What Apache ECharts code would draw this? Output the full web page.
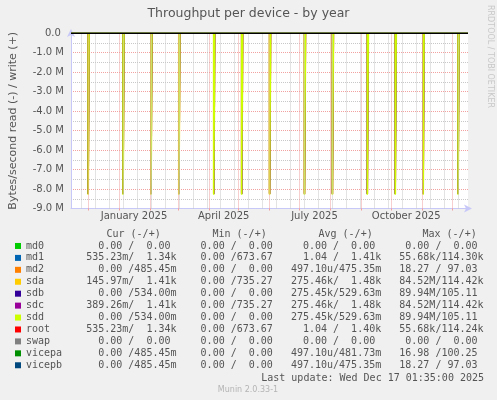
<!DOCTYPE html>
<html>
<head>
<meta charset="utf-8">
<script src="https://cdn.jsdelivr.net/npm/echarts@6/dist/echarts.min.js"></script>
<style>
  html, body { margin: 0; padding: 0; background: #f0f0f0; }
  #chart { width: 497px; height: 400px; }
</style>
</head>
<body>
<div id="chart"></div>
<script>
// time window of the yearly graph
const timeRange = ['2024-11-13T20:00:00Z', '2025-12-17T00:00:00Z'];

// monthly raid check days (daily bins) and read throughput, bytes/s (read is drawn negative)
const spikeDays = ['2024-12-01', '2025-01-05', '2025-02-02', '2025-03-02', '2025-04-06', '2025-05-04',
  '2025-06-01', '2025-07-06', '2025-08-03', '2025-09-07', '2025-10-05', '2025-11-02', '2025-12-07'];
const sdaRead = [-8.25e6, -8.25e6, -8.25e6, -8.25e6, -8.25e6, -8.25e6, -8.25e6, -8.25e6, -8.25e6, -8.25e6, -8.25e6, -8.25e6, -8.25e6];
const sdbRead = [-8.25e6, -8.25e6, -8.25e6, -8.25e6, -8.25e6, -8.25e6, -8.25e6, -8.25e6, -8.25e6, -8.25e6, -8.25e6, -8.25e6, -8.25e6];
const sdcRead = [-8.25e6, -8.25e6, -8.25e6, -8.25e6, -8.25e6, -8.25e6, -8.25e6, -8.25e6, -8.25e6, -8.25e6, -8.25e6, -8.25e6, -8.25e6];
const sddRead = [-8.3e6, -8.3e6, -8.3e6, -8.3e6, -8.3e6, -8.3e6, -8.3e6, -8.3e6, -8.3e6, -8.3e6, -8.3e6, -8.3e6, -8.3e6];

// grid: month boundaries (major) and two-week lines (minor)
const monthStarts = ['2024-12-01', '2025-01-01', '2025-02-01', '2025-03-01', '2025-04-01', '2025-05-01',
  '2025-06-01', '2025-07-01', '2025-08-01', '2025-09-01', '2025-10-01', '2025-11-01', '2025-12-01'];
const minorDays = ['2024-11-24', '2024-12-08', '2024-12-22', '2025-01-05', '2025-01-19', '2025-02-02',
  '2025-02-16', '2025-03-02', '2025-03-16', '2025-03-30', '2025-04-13', '2025-04-27', '2025-05-11',
  '2025-05-25', '2025-06-08', '2025-06-22', '2025-07-06', '2025-07-20', '2025-08-03', '2025-08-17',
  '2025-08-31', '2025-09-14', '2025-09-28', '2025-10-12', '2025-10-26', '2025-11-09', '2025-11-23', '2025-12-07'];
const xLabelDays = ['2025-01-16', '2025-04-16', '2025-07-16', '2025-10-16'];
const xLabelText = ['January 2025', 'April 2025', 'July 2025', 'October 2025'];

// legend table
const devices = ['md0', 'md1', 'md2', 'sda', 'sdb', 'sdc', 'sdd', 'root', 'swap', 'vicepa', 'vicepb'];
const colors = ['#00CC00', '#0066B3', '#FF8000', '#FFCC00', '#330099', '#990099', '#CCFF00', '#FF0000', '#808080', '#008F00', '#00487D'];
const curVals = ['  0.00 /  0.00 ', '535.23m/  1.34k', '  0.00 /485.45m', '145.97m/  1.41k', '  0.00 /534.00m',
  '389.26m/  1.41k', '  0.00 /534.00m', '535.23m/  1.34k', '  0.00 /  0.00 ', '  0.00 /485.45m', '  0.00 /485.45m'];
const minVals = ['  0.00 /  0.00 ', '  0.00 /673.67 ', '  0.00 /  0.00 ', '  0.00 /735.27 ', '  0.00 /  0.00 ',
  '  0.00 /735.27 ', '  0.00 /  0.00 ', '  0.00 /673.67 ', '  0.00 /  0.00 ', '  0.00 /  0.00 ', '  0.00 /  0.00 '];
const avgVals = ['  0.00 /  0.00 ', '  1.04 /  1.41k', '497.10u/475.35m', '275.46k/  1.48k', '275.45k/529.63m',
  '275.46k/  1.48k', '275.45k/529.63m', '  1.04 /  1.40k', '  0.00 /  0.00 ', '497.10u/481.73m', '497.10u/475.35m'];
const maxVals = ['  0.00 /  0.00 ', ' 55.68k/114.30k', ' 18.27 / 97.03 ', ' 84.52M/114.42k', ' 89.94M/105.11 ',
  ' 84.52M/114.42k', ' 89.94M/105.11 ', ' 55.68k/114.24k', '  0.00 /  0.00 ', ' 16.98 /100.25 ', ' 18.27 / 97.03 '];
const headers = ['Cur (-/+)', 'Min (-/+)', 'Avg (-/+)', 'Max (-/+)'];

const DAY = 86400000;
const T = s => Date.parse(s.length === 10 ? s + 'T00:00:00Z' : s);
const tStart = T(timeRange[0]);
const tEnd = T(timeRange[1]);

function readSeries(vals) {
  const pts = [[tStart, 0]];
  spikeDays.forEach((d, i) => {
    const t = T(d);
    pts.push([t, 0], [t, vals[i]], [t + DAY, vals[i]], [t + DAY, 0]);
  });
  pts.push([tEnd, 0]);
  return pts;
}
const readData = { sda: sdaRead, sdb: sdbRead, sdc: sdcRead, sdd: sddRead };
const lineWidths = { sda: 1.8, sdc: 1.5, sdd: 1.5 };

const mono = 'DejaVu Sans Mono';
const sans = 'DejaVu Sans';

var chart = echarts.init(document.getElementById('chart'));

var series = [
  {
    // grid lines
    type: 'line', data: [[tStart, 0]], symbol: 'none', lineStyle: { opacity: 0 }, z: 1, silent: true,
    markLine: {
      symbol: 'none', silent: true, animation: false, label: { show: false },
      data: minorDays.map(d => ({ xAxis: T(d), lineStyle: { color: '#c8c8c8', type: [1, 1], width: 1 } }))
        .concat(monthStarts.map(d => ({ xAxis: T(d), lineStyle: { color: '#f2a0a0', type: [1, 1], width: 1 } })))
    }
  }
];
devices.forEach((name, i) => {
  series.push({
    name: name,
    type: 'line',
    color: colors[i],
    symbol: 'none',
    animation: false,
    z: 2,
    lineStyle: { width: lineWidths[name] || 1, color: colors[i] },
    data: readData[name] ? readSeries(readData[name]) : [[tStart, 0], [tEnd, 0]]
  });
});
series.push({
  type: 'line', data: [[tStart, 0]], symbol: 'none', lineStyle: { opacity: 0 }, z: 5, silent: true,
  markLine: {
    symbol: 'none', silent: true, animation: false, label: { show: false },
    data: [{ yAxis: 0, lineStyle: { color: '#000', type: 'solid', width: 1 } }]
  }
});

var option = {
  backgroundColor: '#f0f0f0',
  animation: false,
  grid: {
    left: 67, right: 29, top: 33, bottom: 191.5,
    show: true, backgroundColor: '#fff', borderWidth: 0
  },
  xAxis: {
    type: 'value',
    min: tStart,
    max: tEnd,
    axisLine: {
      show: true, onZero: false,
      lineStyle: { color: '#c8c8f8' },
      symbol: ['none', 'arrow'], symbolSize: [6, 8], symbolOffset: [0, 4]
    },
    axisTick: { show: true, customValues: monthStarts.map(T), length: 2, lineStyle: { color: '#f2a0a0' } },
    axisLabel: {
      customValues: xLabelDays.map(T),
      formatter: v => xLabelText[xLabelDays.map(T).indexOf(v)] || '',
      fontFamily: sans, fontSize: 10, color: '#555', margin: 3
    },
    splitLine: { show: false }
  },
  yAxis: {
    type: 'value',
    min: -9e6,
    max: 0,
    interval: 1e6,
    name: 'Bytes/second read (-) / write (+)',
    nameLocation: 'middle',
    nameGap: 52,
    nameTextStyle: { fontFamily: sans, fontSize: 11, color: '#555' },
    axisLine: {
      show: true,
      lineStyle: { color: '#c8c8f8' },
      symbol: ['none', 'arrow'], symbolSize: [6, 8], symbolOffset: [0, 4]
    },
    axisTick: { show: false },
    axisLabel: {
      fontFamily: sans, fontSize: 10, color: '#555', margin: 7,
      formatter: v => v === 0 ? '0.0 ' : (v / 1e6).toFixed(1) + ' M'
    },
    splitLine: { show: true, lineStyle: { color: '#f2a0a0', type: [1, 1] } },
    minorTick: { show: false, splitNumber: 2 },
    minorSplitLine: { show: true, lineStyle: { color: '#c8c8c8', type: [1, 1] } }
  },
  legend: {
    orient: 'vertical',
    left: 15,
    top: 240,
    padding: 0,
    itemGap: 0,
    itemWidth: 6,
    itemHeight: 6,
    icon: 'rect',
    selectedMode: false,
    data: devices,
    textStyle: { fontFamily: mono, fontSize: 10, color: '#555', lineHeight: 11.93 },
    formatter: name => {
      const i = devices.indexOf(name);
      return name.padEnd(10) + curVals[i] + '  ' + minVals[i] + '  ' + avgVals[i] + '  ' + maxVals[i];
    }
  },
  graphic: [
    { type: 'text', x: 248.5, y: 13.5, silent: true,
      style: { text: 'Throughput per device - by year', fontFamily: sans, fontSize: 12.5, fill: '#555', align: 'center', verticalAlign: 'middle' } },
    { type: 'text', x: 490, y: 5, rotation: -Math.PI / 2, silent: true,
      style: { text: 'RRDTOOL / TOBI OETIKER', fontFamily: sans, fontSize: 8, fill: '#c8c8c8', align: 'left', verticalAlign: 'middle' } },
    { type: 'text', x: 106.5, y: 234, silent: true,
      style: { text: headers[0], fontFamily: mono, fontSize: 10, fill: '#555', verticalAlign: 'middle' } },
    { type: 'text', x: 212.5, y: 234, silent: true,
      style: { text: headers[1], fontFamily: mono, fontSize: 10, fill: '#555', verticalAlign: 'middle' } },
    { type: 'text', x: 318.5, y: 234, silent: true,
      style: { text: headers[2], fontFamily: mono, fontSize: 10, fill: '#555', verticalAlign: 'middle' } },
    { type: 'text', x: 422.5, y: 234, silent: true,
      style: { text: headers[3], fontFamily: mono, fontSize: 10, fill: '#555', verticalAlign: 'middle' } },
    { type: 'text', x: 484, y: 378, silent: true,
      style: { text: 'Last update: Wed Dec 17 01:35:00 2025', fontFamily: mono, fontSize: 10, fill: '#555', align: 'right', verticalAlign: 'middle' } },
    { type: 'text', x: 248, y: 389.5, silent: true,
      style: { text: 'Munin 2.0.33-1', fontFamily: sans, fontSize: 8, fill: '#b4b4b4', align: 'center', verticalAlign: 'middle' } }
  ],
  series: series
};

option && chart.setOption(option);
</script>
</body>
</html>
